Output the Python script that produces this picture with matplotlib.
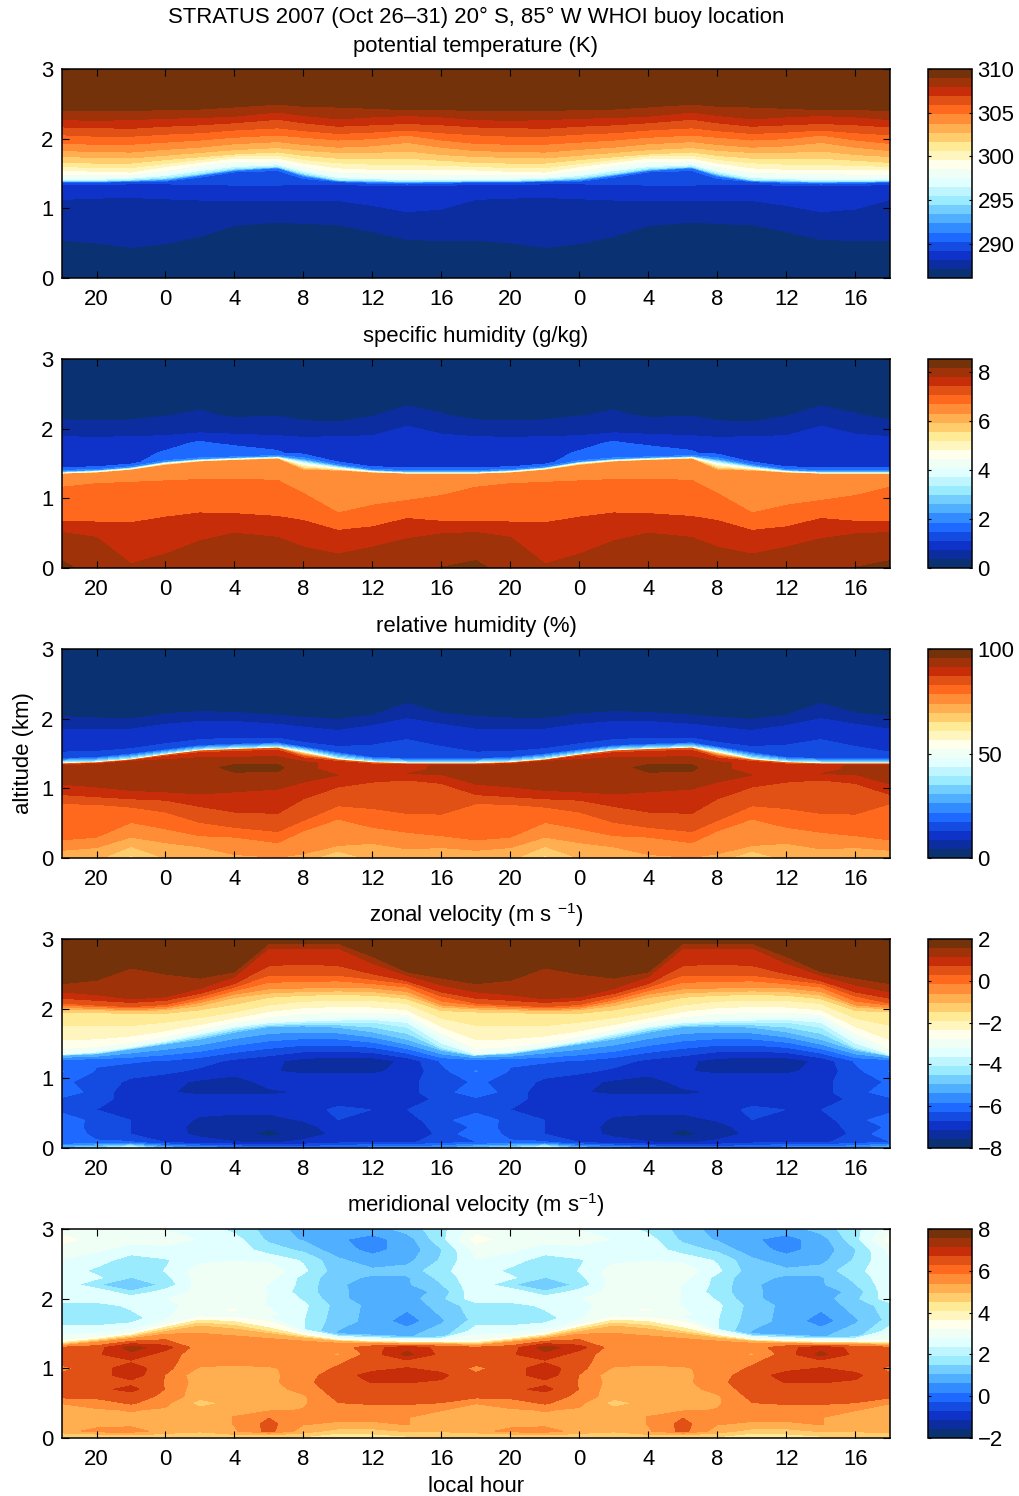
import numpy as np
import matplotlib
matplotlib.use('Agg')
import matplotlib.pyplot as plt
from matplotlib.colors import ListedColormap, BoundaryNorm
from matplotlib.cm import ScalarMappable

plt.rcParams['font.family'] = ['Liberation Sans', 'DejaVu Sans']
plt.rcParams['mathtext.fontset'] = 'custom'
plt.rcParams['mathtext.rm'] = 'Liberation Sans'
plt.rcParams['mathtext.default'] = 'regular'

# colour steps of the bar, bottom to top
steps = [(10, 50, 115), (12, 45, 160), (15, 50, 200), (20, 75, 225), (30, 105, 255), (50, 140, 255),
         (80, 175, 255), (115, 205, 255), (155, 235, 255), (190, 245, 255), (225, 255, 255), (240, 255, 245),
         (255, 255, 235), (255, 245, 190), (255, 235, 150), (255, 205, 110), (255, 175, 80), (255, 140, 55),
         (255, 105, 30), (225, 80, 20), (200, 45, 10), (160, 50, 10), (115, 50, 10)]
cmap = ListedColormap([(r / 255, g / 255, b / 255) for r, g, b in steps])

hours_a = [18, 20, 22, 24, 26, 28, 30.5, 32, 34, 36, 38, 40, 42]
hours_b = [18, 20, 22, 24, 26, 28, 30, 32, 34, 36, 38, 40, 42]
hour_ticks = [20, 24, 28, 32, 36, 40, 44, 48, 52, 56, 60, 64]
hour_labels = ['20', '0', '4', '8', '12', '16', '20', '0', '4', '8', '12', '16']

# potential temperature: value of each row, and its height per hour
theta_vals = [286.3, 287.1, 288.2, 289.2, 290.3, 291.3, 295.0, 297.5, 299.6, 300.6, 301.7, 302.7, 303.8,
              304.8, 305.8, 306.9, 307.9, 309.0, 310.0]
theta_z = [
    [0.00, 0.00, 0.00, 0.00, 0.00, 0.00, 0.00, 0.00, 0.00, 0.00, 0.00, 0.00, 0.00],
    [0.52, 0.48, 0.41, 0.47, 0.58, 0.74, 0.79, 0.77, 0.75, 0.65, 0.54, 0.52, 0.52],
    [1.14, 1.16, 1.17, 1.15, 1.13, 1.12, 1.12, 1.12, 1.12, 1.05, 0.96, 1.00, 1.14],
    [1.34, 1.34, 1.35, 1.35, 1.34, 1.33, 1.33, 1.34, 1.34, 1.33, 1.32, 1.33, 1.34],
    [1.375, 1.375, 1.385, 1.39, 1.45, 1.53, 1.55, 1.43, 1.385, 1.36, 1.35, 1.36, 1.375],
    [1.38, 1.38, 1.39, 1.40, 1.47, 1.54, 1.58, 1.46, 1.39, 1.375, 1.37, 1.375, 1.38],
    [1.395, 1.395, 1.41, 1.44, 1.50, 1.57, 1.60, 1.50, 1.41, 1.40, 1.39, 1.395, 1.395],
    [1.43, 1.43, 1.45, 1.49, 1.57, 1.62, 1.64, 1.55, 1.46, 1.44, 1.43, 1.43, 1.43],
    [1.55, 1.53, 1.52, 1.60, 1.66, 1.72, 1.72, 1.65, 1.58, 1.56, 1.56, 1.55, 1.55],
    [1.60, 1.58, 1.58, 1.64, 1.70, 1.75, 1.76, 1.70, 1.65, 1.63, 1.63, 1.61, 1.60],
    [1.66, 1.65, 1.65, 1.70, 1.74, 1.78, 1.81, 1.76, 1.72, 1.71, 1.72, 1.69, 1.66],
    [1.74, 1.73, 1.72, 1.76, 1.80, 1.84, 1.87, 1.83, 1.80, 1.80, 1.82, 1.77, 1.74],
    [1.83, 1.82, 1.81, 1.85, 1.88, 1.93, 1.96, 1.92, 1.88, 1.90, 1.95, 1.88, 1.83],
    [1.93, 1.92, 1.92, 1.95, 1.98, 2.02, 2.05, 2.02, 1.98, 2.00, 2.05, 1.98, 1.93],
    [2.05, 2.03, 2.03, 2.06, 2.08, 2.12, 2.15, 2.11, 2.07, 2.09, 2.12, 2.08, 2.05],
    [2.17, 2.16, 2.15, 2.18, 2.20, 2.23, 2.28, 2.23, 2.18, 2.20, 2.22, 2.20, 2.17],
    [2.27, 2.26, 2.27, 2.29, 2.30, 2.32, 2.38, 2.33, 2.28, 2.31, 2.33, 2.31, 2.27],
    [2.41, 2.41, 2.41, 2.42, 2.43, 2.46, 2.50, 2.47, 2.46, 2.44, 2.42, 2.42, 2.41],
    [3.00, 3.00, 3.00, 3.00, 3.00, 3.00, 3.00, 3.00, 3.00, 3.00, 3.00, 3.00, 3.00],
]

# specific humidity, surface row first, then isoline rows, then free troposphere rows
q_rows = [
    [8.20, 7.90, 7.70, 7.90, 8.00, 8.00, 8.00, 7.90, 7.70, 7.90, 7.95, 8.10, 8.20],
    [7.67] * 13,
    [7.25] * 13,
    [6.83] * 13,
    [6.41] * 13,
    [5.00] * 13,
    [4.00] * 13,
    [3.00] * 13,
    [2.00] * 13,
    [1.15, 1.15, 1.15, 1.50, 1.60, 1.60, 1.60, 1.50, 1.15, 1.15, 1.15, 1.15, 1.15],
    [1.10, 1.10, 1.10, 1.30, 1.60, 1.60, 1.30, 1.10, 1.10, 1.10, 1.10, 1.10, 1.10],
    [1.10, 1.10, 1.10, 1.10, 1.30, 1.10, 1.10, 1.10, 1.10, 1.10, 1.15, 1.10, 1.10],
    [0.75, 0.70, 0.75, 0.80, 0.80, 0.85, 0.80, 0.70, 0.75, 0.80, 1.00, 0.85, 0.75],
    [0.40, 0.40, 0.40, 0.50, 0.60, 0.45, 0.50, 0.40, 0.30, 0.50, 0.70, 0.55, 0.40],
    [0.30] * 13,
    [0.30] * 13,
]
q_z = [
    [0.00] * 13,
    [0.51, 0.44, 0.06, 0.20, 0.39, 0.50, 0.44, 0.30, 0.20, 0.30, 0.42, 0.49, 0.51],
    [0.67, 0.66, 0.65, 0.73, 0.79, 0.78, 0.74, 0.68, 0.54, 0.59, 0.71, 0.67, 0.67],
    [1.16, 1.21, 1.23, 1.25, 1.27, 1.27, 1.26, 1.07, 0.79, 0.90, 0.97, 1.04, 1.16],
    [1.345, 1.36, 1.40, 1.47, 1.52, 1.54, 1.56, 1.40, 1.39, 1.36, 1.345, 1.345, 1.345],
    [1.35, 1.37, 1.41, 1.49, 1.53, 1.55, 1.57, 1.46, 1.41, 1.37, 1.35, 1.35, 1.35],
    [1.36, 1.38, 1.42, 1.50, 1.54, 1.56, 1.58, 1.50, 1.43, 1.38, 1.36, 1.36, 1.36],
    [1.37, 1.39, 1.43, 1.51, 1.55, 1.57, 1.59, 1.53, 1.45, 1.39, 1.37, 1.37, 1.37],
    [1.385, 1.40, 1.44, 1.52, 1.56, 1.58, 1.60, 1.56, 1.47, 1.40, 1.385, 1.385, 1.385],
    [1.45, 1.46, 1.50, 1.57, 1.60, 1.61, 1.63, 1.61, 1.53, 1.46, 1.45, 1.45, 1.45],
    [1.65] * 13,
    [1.80] * 13,
    [2.00] * 13,
    [2.20] * 13,
    [2.50] * 13,
    [3.00] * 13,
]

# relative humidity
rh_rows = [
    [71.0, 69.0, 62.0, 68.0, 70.0, 71.0, 72.0, 71.0, 62.0, 70.0, 71.0, 71.0, 71.0],
    [72.4] * 13,
    [77.0] * 13,
    [81.6] * 13,
    [86.2] * 13,
    [90.8] * 13,
    [93.0, 93.0, 93.0, 93.0, 94.0, 96.5, 96.5, 92.0, 89.0, 88.0, 89.0, 92.0, 93.0],
    [93.0, 93.0, 93.0, 93.0, 94.0, 94.0, 94.0, 92.0, 89.0, 88.0, 89.0, 92.0, 93.0],
    [85.0] * 13,
    [65.0] * 13,
    [40.0] * 13,
    [16.0] * 13,
    [13.8] * 13,
    [9.2] * 13,
    [4.6] * 13,
    [1.0] * 13,
]
rh_z = [
    [0.00] * 13,
    [0.11, 0.15, 0.30, 0.22, 0.16, 0.05, 0.01, 0.06, 0.18, 0.21, 0.13, 0.15, 0.11],
    [0.26, 0.30, 0.51, 0.42, 0.32, 0.30, 0.22, 0.39, 0.56, 0.44, 0.37, 0.32, 0.26],
    [0.78, 0.77, 0.73, 0.66, 0.51, 0.44, 0.38, 0.54, 0.75, 0.71, 0.64, 0.63, 0.78],
    [0.91, 0.88, 0.85, 0.83, 0.74, 0.66, 0.64, 0.85, 1.02, 1.09, 1.12, 1.07, 0.91],
    [1.06, 1.02, 0.97, 0.95, 0.92, 0.95, 0.99, 1.09, 1.19, 1.20, 1.21, 1.20, 1.06],
    [1.28, 1.28, 1.30, 1.30, 1.30, 1.30, 1.30, 1.28, 1.27, 1.27, 1.27, 1.27, 1.28],
    [1.32, 1.33, 1.38, 1.39, 1.39, 1.39, 1.39, 1.37, 1.35, 1.33, 1.32, 1.32, 1.32],
    [1.345, 1.36, 1.40, 1.47, 1.53, 1.55, 1.57, 1.45, 1.40, 1.36, 1.345, 1.345, 1.345],
    [1.355, 1.37, 1.41, 1.48, 1.54, 1.56, 1.58, 1.50, 1.41, 1.37, 1.355, 1.355, 1.355],
    [1.365, 1.38, 1.42, 1.49, 1.55, 1.57, 1.59, 1.54, 1.43, 1.38, 1.365, 1.365, 1.365],
    [1.435, 1.45, 1.50, 1.56, 1.62, 1.64, 1.66, 1.60, 1.52, 1.45, 1.435, 1.435, 1.435],
    [1.52, 1.53, 1.57, 1.64, 1.70, 1.72, 1.72, 1.66, 1.60, 1.62, 1.70, 1.60, 1.52],
    [1.85, 1.84, 1.85, 1.92, 1.96, 1.96, 1.92, 1.88, 1.83, 1.90, 2.00, 1.92, 1.85],
    [2.03, 2.01, 2.00, 2.07, 2.10, 2.09, 2.05, 2.02, 1.99, 2.05, 2.22, 2.08, 2.03],
    [3.00] * 13,
]

# zonal velocity
u_rows = [
    [-4.8, -4.4, -3.3, -5.0, -5.4, -5.7, -6.0, -6.0, -5.8, -5.6, -5.6, -5.4, -4.8],
    [-6.3, -6.2, -6.2, -6.7, -7.0, -7.1, -7.2, -7.0, -6.8, -6.7, -6.8, -6.4, -6.3],
    [-5.9, -6.4, -6.7, -7.0, -7.2, -7.4, -7.7, -7.4, -7.0, -7.0, -7.0, -6.6, -5.9],
    [-6.2, -6.3, -6.7, -6.9, -7.3, -7.4, -7.5, -7.3, -6.9, -7.0, -7.0, -6.5, -6.2],
    [-6.0, -6.4, -6.7, -6.9, -7.2, -7.3, -7.3, -7.1, -6.7, -6.9, -6.9, -6.4, -6.0],
    [-6.4, -6.7, -6.9, -6.9, -7.0, -7.0, -7.0, -6.9, -6.6, -6.7, -6.7, -6.5, -6.4],
    [-6.4, -6.6, -6.8, -6.9, -7.0, -7.0, -7.0, -6.9, -6.9, -6.9, -6.9, -6.6, -6.4],
    [-5.9, -6.5, -6.9, -7.1, -7.2, -7.2, -7.2, -7.1, -6.9, -6.9, -6.8, -6.5, -5.9],
    [-6.2, -6.4, -6.8, -7.0, -7.2, -7.3, -7.0, -6.9, -6.9, -6.9, -6.8, -6.5, -6.2],
    [-5.8, -6.3, -6.5, -6.6, -6.8, -7.0, -7.1, -7.2, -7.2, -7.2, -7.0, -6.4, -5.8],
    [-6.1, -6.2, -6.2, -6.3, -6.5, -6.8, -7.0, -7.3, -7.4, -7.4, -7.0, -6.2, -6.1],
]
u_low_z = [0.00, 0.08, 0.20, 0.30, 0.40, 0.55, 0.70, 0.80, 0.95, 1.10, 1.25]
u_iso_vals = [-5.0, -4.0, -3.2, -2.5, -2.0, -1.5, -1.0, -0.5, -0.17, 0.26, 0.70, 1.13, 1.57]
u_iso_z = [
    [1.33, 1.35, 1.42, 1.49, 1.56, 1.66, 1.74, 1.75, 1.73, 1.66, 1.55, 1.40, 1.32],
    [1.34, 1.37, 1.44, 1.52, 1.62, 1.72, 1.78, 1.80, 1.81, 1.82, 1.75, 1.45, 1.33],
    [1.35, 1.39, 1.46, 1.55, 1.66, 1.76, 1.82, 1.85, 1.87, 1.88, 1.87, 1.58, 1.35],
    [1.48, 1.50, 1.56, 1.64, 1.74, 1.84, 1.93, 1.98, 2.00, 1.99, 1.95, 1.70, 1.48],
    [1.72, 1.72, 1.72, 1.78, 1.85, 1.93, 2.03, 2.09, 2.10, 2.10, 2.06, 1.84, 1.72],
    [1.95, 1.94, 1.93, 1.93, 1.98, 2.06, 2.16, 2.19, 2.20, 2.19, 2.14, 1.97, 1.95],
    [2.00, 1.99, 1.97, 1.99, 2.05, 2.17, 2.23, 2.25, 2.26, 2.25, 2.20, 2.03, 2.00],
    [2.02, 2.01, 1.99, 2.01, 2.10, 2.22, 2.30, 2.31, 2.32, 2.31, 2.26, 2.06, 2.02],
    [2.05, 2.03, 2.01, 2.03, 2.13, 2.26, 2.38, 2.39, 2.40, 2.36, 2.31, 2.11, 2.05],
    [2.08, 2.05, 2.03, 2.06, 2.17, 2.31, 2.48, 2.48, 2.48, 2.42, 2.36, 2.18, 2.08],
    [2.15, 2.12, 2.09, 2.12, 2.22, 2.36, 2.62, 2.64, 2.62, 2.50, 2.40, 2.24, 2.15],
    [2.24, 2.20, 2.14, 2.17, 2.29, 2.46, 2.87, 2.87, 2.87, 2.65, 2.48, 2.34, 2.24],
    [2.36, 2.41, 2.59, 2.50, 2.44, 2.53, 2.94, 2.94, 2.94, 2.75, 2.53, 2.44, 2.36],
]
u_top = [1.9, 1.9, 1.9, 1.9, 1.9, 1.9, 1.65, 1.65, 1.65, 1.9, 1.9, 1.9, 1.9]

# meridional velocity
v_rows = [
    [4.1, 4.1, 4.3, 4.1, 4.1, 4.2, 4.3, 4.2, 3.9, 3.9, 4.1, 4.1, 4.1],
    [4.7, 4.8, 5.0, 4.8, 4.7, 4.9, 5.0, 4.7, 4.2, 4.3, 4.6, 4.6, 4.7],
    [5.2, 5.7, 5.75, 5.2, 5.0, 5.4, 6.2, 5.2, 4.7, 4.7, 5.0, 5.0, 5.2],
    [5.2, 5.2, 5.3, 5.2, 5.1, 5.5, 6.2, 5.5, 5.4, 5.4, 5.5, 5.2, 5.2],
    [5.2, 5.3, 5.4, 5.3, 5.1, 5.5, 6.0, 5.6, 5.6, 5.6, 5.5, 5.2, 5.2],
    [5.2, 5.4, 5.5, 5.4, 5.1, 5.2, 5.4, 5.5, 5.7, 5.7, 5.7, 5.5, 5.2],
    [5.5, 5.7, 6.1, 5.6, 4.7, 5.1, 5.2, 5.4, 6.0, 6.1, 6.1, 6.0, 5.5],
    [6.2, 6.2, 6.3, 5.9, 5.1, 5.2, 5.2, 5.4, 6.2, 6.3, 6.3, 6.3, 6.2],
    [6.3, 6.4, 6.75, 6.0, 5.1, 5.2, 5.2, 5.7, 6.3, 6.3, 6.3, 6.3, 6.3],
    [6.2, 6.3, 6.4, 6.0, 5.2, 5.2, 5.3, 5.9, 6.3, 6.6, 6.6, 6.5, 6.2],
    [6.1, 6.3, 6.9, 6.0, 5.1, 5.2, 5.3, 5.8, 6.3, 6.8, 6.9, 6.7, 6.1],
    [5.9, 6.3, 6.9, 6.2, 5.4, 5.3, 5.4, 5.7, 6.1, 6.4, 6.6, 6.4, 5.9],
    [6.2, 6.4, 6.5, 6.2, 5.7, 5.7, 5.7, 5.7, 5.9, 6.4, 6.4, 6.4, 6.2],
    [6.3, 6.5, 6.95, 6.3, 5.7, 5.7, 5.7, 5.7, 5.4, 6.3, 7.3, 6.4, 6.3],
    [6.1, 6.3, 7.4, 6.8, 5.7, 5.7, 5.7, 5.7, 5.7, 6.4, 6.9, 6.4, 6.1],
    [5.4] * 13,
    [4.0] * 13,
    [3.0] * 13,
    [2.45, 2.45, 2.6, 2.8, 3.2, 3.2, 2.7, 2.2, 1.0, 1.0, 1.0, 1.4, 2.45],
    [1.8, 1.8, 1.9, 2.6, 3.2, 3.3, 2.9, 2.2, 1.3, 0.9, 0.2, 1.0, 1.8],
    [1.9, 1.9, 2.3, 2.6, 2.9, 2.9, 2.7, 2.3, 1.4, 0.9, 0.7, 1.3, 1.9],
    [2.5, 2.5, 2.5, 2.7, 3.0, 3.0, 2.7, 2.1, 1.2, 0.8, 0.8, 1.5, 2.5],
    [2.6, 2.6, 1.7, 2.4, 2.9, 3.1, 2.7, 1.9, 1.2, 0.8, 0.7, 1.3, 2.6],
    [2.6, 1.7, 1.0, 1.8, 3.0, 3.0, 2.7, 2.0, 1.1, 1.0, 1.0, 1.6, 2.6],
    [2.6, 2.3, 1.6, 2.0, 3.0, 3.0, 2.9, 2.0, 1.2, 1.0, 1.0, 1.8, 2.6],
    [2.6, 2.0, 1.8, 2.2, 3.0, 3.0, 3.1, 2.3, 1.3, 1.2, 1.3, 2.0, 2.6],
    [2.7, 2.5, 1.8, 2.1, 2.6, 2.7, 2.6, 2.1, 1.2, 0.7, 0.9, 1.7, 2.7],
    [2.9, 2.8, 2.5, 2.6, 2.7, 2.5, 1.9, 1.5, 0.7, 0.4, 0.7, 1.6, 2.9],
    [3.5, 3.0, 2.9, 2.9, 2.7, 2.4, 1.5, 1.0, 0.6, 0.3, 0.8, 2.0, 3.5],
    [3.0, 3.0, 2.9, 2.7, 2.5, 2.0, 1.4, 0.8, 0.7, 0.8, 1.3, 2.0, 3.0],
]
v_z = [[z] * 13 for z in [0.00, 0.05, 0.10, 0.20, 0.30, 0.40, 0.50, 0.60, 0.70, 0.80, 0.90, 1.00, 1.10, 1.20, 1.30]]
v_z += [
    [1.33, 1.38, 1.43, 1.50, 1.57, 1.52, 1.47, 1.42, 1.38, 1.36, 1.35, 1.35, 1.33],
    [1.36, 1.41, 1.47, 1.58, 1.68, 1.65, 1.55, 1.46, 1.40, 1.38, 1.37, 1.37, 1.36],
    [1.42, 1.46, 1.52, 1.64, 1.76, 1.76, 1.72, 1.52, 1.43, 1.41, 1.40, 1.40, 1.42],
    [1.55, 1.55, 1.58, 1.66, 1.80, 1.80, 1.74, 1.56, 1.50, 1.48, 1.46, 1.46, 1.55],
    [1.70, 1.70, 1.70, 1.75, 1.84, 1.84, 1.80, 1.70, 1.68, 1.68, 1.68, 1.68, 1.70],
]
v_z += [[z] * 13 for z in [1.90, 2.00, 2.10, 2.20, 2.30, 2.40, 2.55, 2.70, 2.85, 3.00]]

titles = ['potential temperature (K)', 'specific humidity (g/kg)', 'relative humidity (%)',
          'zonal velocity (m s $^{-1}$)', 'meridional velocity (m s$^{-1}$)']
bar_limits = [(286.1, 310), (0, 8.53), (0, 100), (-8, 2), (-2, 8)]
bar_ticks = [[290, 295, 300, 305, 310], [0, 2, 4, 6, 8], [0, 50, 100],
             [-8, -6, -4, -2, 0, 2], [-2, 0, 2, 4, 6, 8]]
band_edges = [np.linspace(286.1, 310, 24),
              np.r_[[0.11, 0.53, 0.95, 1.25], np.arange(1.79, 8.52, 0.42)],
              np.r_[[0, 4.6, 9.2, 13.8, 18.4], np.arange(21.8, 100.1, 4.6)],
              np.linspace(-8, 2, 24),
              np.arange(-2.225, 8.3, 0.55)]

theta_v = [[t] * 13 for t in theta_vals]
u_v = u_rows + [[t] * 13 for t in u_iso_vals] + [u_top]
u_z = [[z] * 13 for z in u_low_z] + u_iso_z + [[3.0] * 13]

fields = [(hours_a, theta_z, theta_v), (hours_a, q_z, q_rows), (hours_a, rh_z, rh_rows),
          (hours_b, u_z, u_v), (hours_b, v_z, v_rows)]

W, H = 1020, 1496
fig = plt.figure(figsize=(W / 100, H / 100), dpi=100)
FS = 15.9


def px_axes(left, top, right, bottom):
    return fig.add_axes([left / W, 1 - bottom / H, (right - left) / W, (bottom - top) / H])


for i in range(5):
    top = 69 + 290 * i
    ax = px_axes(62, top, 890, top + 209)
    hrs, z, vals = fields[i]
    lo, hi = bar_limits[i]
    norm = BoundaryNorm(np.linspace(lo, hi, 24), cmap.N)
    x = np.array(hrs, dtype=float)
    for day in range(2):
        X = np.tile(x + 24 * day, (len(z), 1))
        ax.contourf(X, np.array(z), np.array(vals), levels=band_edges[i], cmap=cmap, norm=norm, extend='both')
    ax.set_xlim(18, 66)
    ax.set_ylim(0, 3)
    ax.set_xticks(hour_ticks)
    ax.set_xticklabels(hour_labels)
    ax.set_yticks([0, 1, 2, 3])
    ax.tick_params(direction='in', top=True, right=True, length=5, width=0.8, labelsize=FS, pad=8, colors='black')
    ax.tick_params(axis='y', pad=6)
    ax.set_title(titles[i], fontsize=FS, pad=12.5)
    for s in ax.spines.values():
        s.set_linewidth(1.1)
    if i == 2:
        ax.set_ylabel('altitude (km)', fontsize=FS, labelpad=5)
    if i == 4:
        ax.set_xlabel('local hour', fontsize=FS, labelpad=4)

    cax = px_axes(928, top, 972, top + 209)
    cb = fig.colorbar(ScalarMappable(norm=norm, cmap=cmap), cax=cax, spacing='proportional', drawedges=False)
    cb.set_ticks(bar_ticks[i])
    cb.set_ticklabels([str(t).replace('-', '\u2212') for t in bar_ticks[i]])
    cb.minorticks_off()
    cax.tick_params(direction='in', left=True, right=True, length=2.2, width=0.8, labelsize=FS, pad=4)
    cb.outline.set_linewidth(1.1)

fig.text(476.5 / W, 1 - 17 / H, 'STRATUS 2007 (Oct 26\u201331) 20\u00b0 S, 85\u00b0 W WHOI buoy location',
         ha='center', va='center', fontsize=FS)

fig.savefig('out.png', dpi=100)
